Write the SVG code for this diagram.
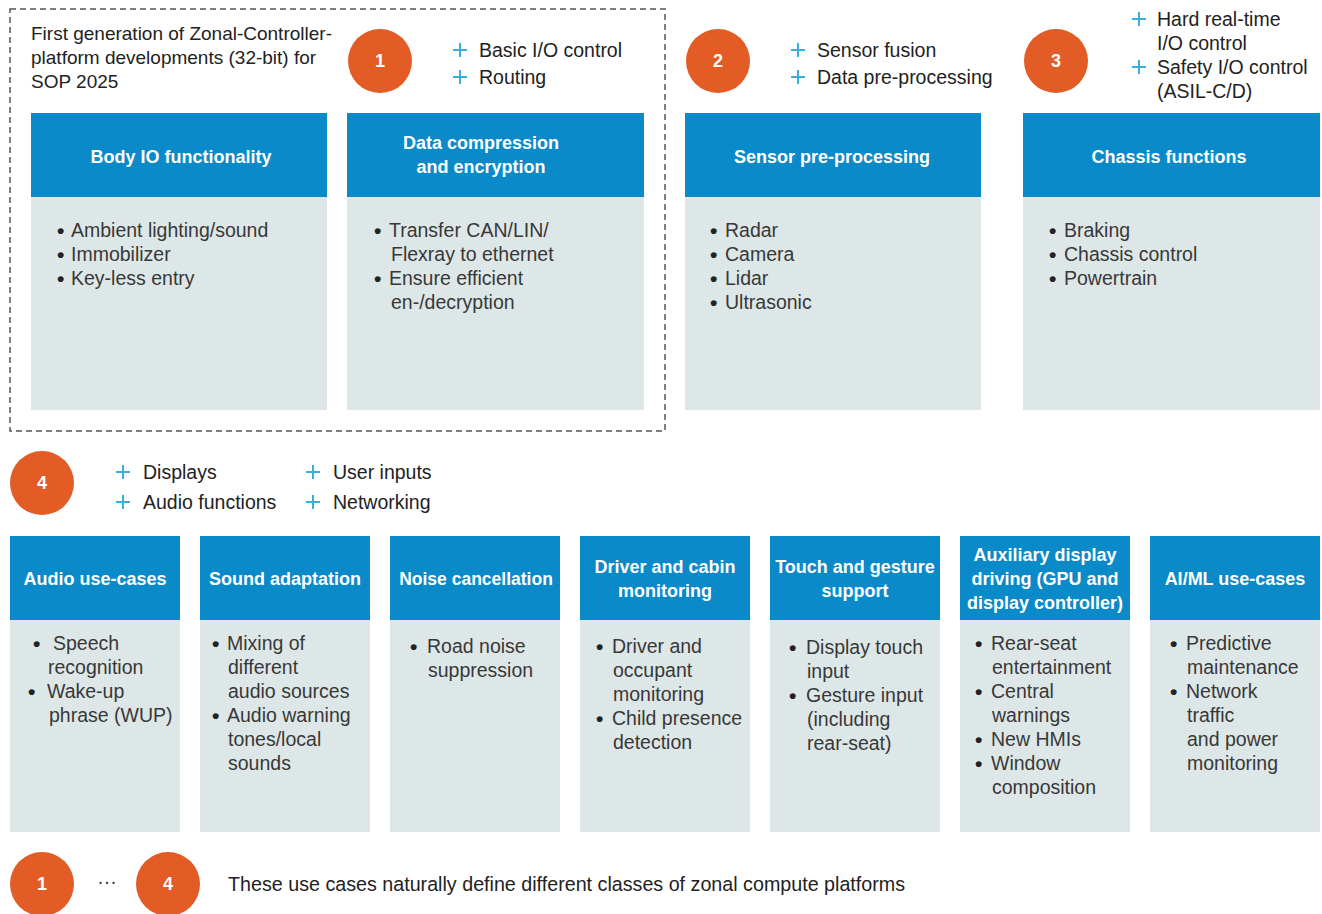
<svg xmlns="http://www.w3.org/2000/svg" width="1322" height="914" viewBox="0 0 1322 914">
<style>
.hdr{fill:#0A8AC8}
.bd{fill:#DEE7E7}
.ht{font-family:"Liberation Sans",Arial,sans-serif;font-weight:bold;font-size:18px;fill:#fff;text-anchor:middle}
.bt{font-family:"Liberation Sans",Arial,sans-serif;font-size:19.5px;fill:#383838}
.bu{font-family:"Liberation Sans",Arial,sans-serif;font-size:21px;font-weight:bold;fill:#222}
.tt{font-family:"Liberation Sans",Arial,sans-serif;font-size:19.5px;fill:#222}
.circ{fill:#E35B25}
.num{font-family:"Liberation Sans",Arial,sans-serif;font-size:18px;font-weight:bold;fill:#fff;text-anchor:middle}
.plus{stroke:#3AAEDC;stroke-width:2;fill:none}
</style>
<defs>
<path id="pl" class="plus" d="M-7,0H7M0,-7V7"/>
</defs>
<rect width="1322" height="914" fill="#fff"/>
<rect x="10" y="9" width="655" height="422" fill="none" stroke="#555" stroke-width="1.5" stroke-dasharray="6,4"/>

<g id="intro">
<text class="tt" x="31" y="40" style="font-size:19px">First generation of Zonal-Controller-</text>
<text class="tt" x="31" y="64" style="font-size:19px">platform developments (32-bit) for</text>
<text class="tt" x="31" y="88" style="font-size:19px">SOP 2025</text>
</g>

<g id="circle1">
<ellipse class="circ" cx="380" cy="61" rx="32" ry="32"/>
<text class="num" x="380" y="67">1</text>
<use href="#pl" x="460" y="50"/><text class="tt" x="479" y="57">Basic I/O control</text>
<use href="#pl" x="460" y="77"/><text class="tt" x="479" y="84">Routing</text>
</g>

<g id="circle2">
<ellipse class="circ" cx="718" cy="61" rx="32" ry="32"/>
<text class="num" x="718" y="67">2</text>
<use href="#pl" x="798" y="50"/><text class="tt" x="817" y="57">Sensor fusion</text>
<use href="#pl" x="798" y="77"/><text class="tt" x="817" y="84">Data pre-processing</text>
</g>

<g id="circle3">
<ellipse class="circ" cx="1056" cy="61" rx="32" ry="32"/>
<text class="num" x="1056" y="67">3</text>
<use href="#pl" x="1139" y="19"/><text class="tt" x="1157" y="26">Hard real-time</text>
<text class="tt" x="1157" y="50">I/O control</text>
<use href="#pl" x="1139" y="67"/><text class="tt" x="1157" y="74">Safety I/O control</text>
<text class="tt" x="1157" y="98">(ASIL-C/D)</text>
</g>

<g id="circle4">
<ellipse class="circ" cx="42" cy="483" rx="32" ry="32"/>
<text class="num" x="42" y="489">4</text>
<use href="#pl" x="123" y="472"/><text class="tt" x="143" y="479">Displays</text>
<use href="#pl" x="123" y="502"/><text class="tt" x="143" y="509">Audio functions</text>
<use href="#pl" x="313" y="472"/><text class="tt" x="333" y="479">User inputs</text>
<use href="#pl" x="313" y="502"/><text class="tt" x="333" y="509">Networking</text>
</g>

<g id="body-io">
<rect class="hdr" x="31" y="113" width="296" height="84"/>
<rect class="bd" x="31" y="197" width="296" height="213"/>
<text class="ht" x="181" y="163">Body IO functionality</text>
<text class="bu" x="57" y="238">•</text><text class="bt" x="71" y="237">Ambient lighting/sound</text>
<text class="bu" x="57" y="262">•</text><text class="bt" x="71" y="261">Immobilizer</text>
<text class="bu" x="57" y="286">•</text><text class="bt" x="71" y="285">Key-less entry</text>
</g>

<g id="data-compression">
<rect class="hdr" x="347" y="113" width="297" height="84"/>
<rect class="bd" x="347" y="197" width="297" height="213"/>
<text class="ht" x="481" y="149">Data compression</text>
<text class="ht" x="481" y="173">and encryption</text>
<text class="bu" x="374" y="238">•</text><text class="bt" x="389" y="237">Transfer CAN/LIN/</text>
<text class="bt" x="391" y="261">Flexray to ethernet</text>
<text class="bu" x="374" y="286">•</text><text class="bt" x="389" y="285">Ensure efficient</text>
<text class="bt" x="391" y="309">en-/decryption</text>
</g>

<g id="sensor-preprocessing">
<rect class="hdr" x="685" y="113" width="296" height="84"/>
<rect class="bd" x="685" y="197" width="296" height="213"/>
<text class="ht" x="832" y="163">Sensor pre-processing</text>
<text class="bu" x="710" y="238">•</text><text class="bt" x="725" y="237">Radar</text>
<text class="bu" x="710" y="262">•</text><text class="bt" x="725" y="261">Camera</text>
<text class="bu" x="710" y="286">•</text><text class="bt" x="725" y="285">Lidar</text>
<text class="bu" x="710" y="310">•</text><text class="bt" x="725" y="309">Ultrasonic</text>
</g>

<g id="chassis">
<rect class="hdr" x="1023" y="113" width="297" height="84"/>
<rect class="bd" x="1023" y="197" width="297" height="213"/>
<text class="ht" x="1169" y="163">Chassis functions</text>
<text class="bu" x="1049" y="238">•</text><text class="bt" x="1064" y="237">Braking</text>
<text class="bu" x="1049" y="262">•</text><text class="bt" x="1064" y="261">Chassis control</text>
<text class="bu" x="1049" y="286">•</text><text class="bt" x="1064" y="285">Powertrain</text>
</g>

<g id="audio-use-cases">
<rect class="hdr" x="10" y="536" width="170" height="84"/>
<rect class="bd" x="10" y="620" width="170" height="212"/>
<text class="ht" x="95" y="585">Audio use-cases</text>
<text class="bu" x="33" y="651">•</text><text class="bt" x="53" y="650">Speech</text>
<text class="bt" x="48" y="674">recognition</text>
<text class="bu" x="28" y="699">•</text><text class="bt" x="47" y="698">Wake-up</text>
<text class="bt" x="49" y="722">phrase (WUP)</text>
</g>

<g id="sound-adaptation">
<rect class="hdr" x="200" y="536" width="170" height="84"/>
<rect class="bd" x="200" y="620" width="170" height="212"/>
<text class="ht" x="285" y="585">Sound adaptation</text>
<text class="bu" x="212" y="651">•</text><text class="bt" x="227" y="650">Mixing of</text>
<text class="bt" x="228" y="674">different</text>
<text class="bt" x="228" y="698">audio sources</text>
<text class="bu" x="212" y="723">•</text><text class="bt" x="227" y="722">Audio warning</text>
<text class="bt" x="228" y="746">tones/local</text>
<text class="bt" x="228" y="770">sounds</text>
</g>

<g id="noise-cancellation">
<rect class="hdr" x="390" y="536" width="170" height="84"/>
<rect class="bd" x="390" y="620" width="170" height="212"/>
<text class="ht" x="476" y="585" style="font-size:17.5px">Noise cancellation</text>
<text class="bu" x="410" y="654">•</text><text class="bt" x="427" y="653">Road noise</text>
<text class="bt" x="428" y="677">suppression</text>
</g>

<g id="driver-cabin">
<rect class="hdr" x="580" y="536" width="170" height="84"/>
<rect class="bd" x="580" y="620" width="170" height="212"/>
<text class="ht" x="665" y="573">Driver and cabin</text>
<text class="ht" x="665" y="597">monitoring</text>
<text class="bu" x="596" y="654">•</text><text class="bt" x="612" y="653">Driver and</text>
<text class="bt" x="613" y="677">occupant</text>
<text class="bt" x="613" y="701">monitoring</text>
<text class="bu" x="596" y="726">•</text><text class="bt" x="612" y="725">Child presence</text>
<text class="bt" x="613" y="749">detection</text>
</g>

<g id="touch-gesture">
<rect class="hdr" x="770" y="536" width="170" height="84"/>
<rect class="bd" x="770" y="620" width="170" height="212"/>
<text class="ht" x="855" y="573">Touch and gesture</text>
<text class="ht" x="855" y="597">support</text>
<text class="bu" x="789" y="655">•</text><text class="bt" x="806" y="654">Display touch</text>
<text class="bt" x="807" y="678">input</text>
<text class="bu" x="789" y="703">•</text><text class="bt" x="806" y="702">Gesture input</text>
<text class="bt" x="807" y="726">(including</text>
<text class="bt" x="807" y="750">rear-seat)</text>
</g>

<g id="auxiliary-display">
<rect class="hdr" x="960" y="536" width="170" height="84"/>
<rect class="bd" x="960" y="620" width="170" height="212"/>
<text class="ht" x="1045" y="561">Auxiliary display</text>
<text class="ht" x="1045" y="585">driving (GPU and</text>
<text class="ht" x="1045" y="609">display controller)</text>
<text class="bu" x="975" y="651">•</text><text class="bt" x="991" y="650">Rear-seat</text>
<text class="bt" x="992" y="674">entertainment</text>
<text class="bu" x="975" y="699">•</text><text class="bt" x="991" y="698">Central</text>
<text class="bt" x="992" y="722">warnings</text>
<text class="bu" x="975" y="747">•</text><text class="bt" x="991" y="746">New HMIs</text>
<text class="bu" x="975" y="771">•</text><text class="bt" x="991" y="770">Window</text>
<text class="bt" x="992" y="794">composition</text>
</g>

<g id="aiml">
<rect class="hdr" x="1150" y="536" width="170" height="84"/>
<rect class="bd" x="1150" y="620" width="170" height="212"/>
<text class="ht" x="1235" y="585">AI/ML use-cases</text>
<text class="bu" x="1170" y="651">•</text><text class="bt" x="1186" y="650">Predictive</text>
<text class="bt" x="1187" y="674">maintenance</text>
<text class="bu" x="1170" y="699">•</text><text class="bt" x="1186" y="698">Network</text>
<text class="bt" x="1187" y="722">traffic</text>
<text class="bt" x="1187" y="746">and power</text>
<text class="bt" x="1187" y="770">monitoring</text>
</g>

<g id="footer">
<ellipse class="circ" cx="42" cy="884" rx="32" ry="32"/>
<text class="num" x="42" y="890">1</text>
<text class="bt" x="107" y="888" text-anchor="middle">···</text>
<ellipse class="circ" cx="168" cy="884" rx="32" ry="32"/>
<text class="num" x="168" y="890">4</text>
<text class="tt" x="228" y="891" style="font-size:19.7px">These use cases naturally define different classes of zonal compute platforms</text>
</g>

<g id="connectors"></g>
</svg>
